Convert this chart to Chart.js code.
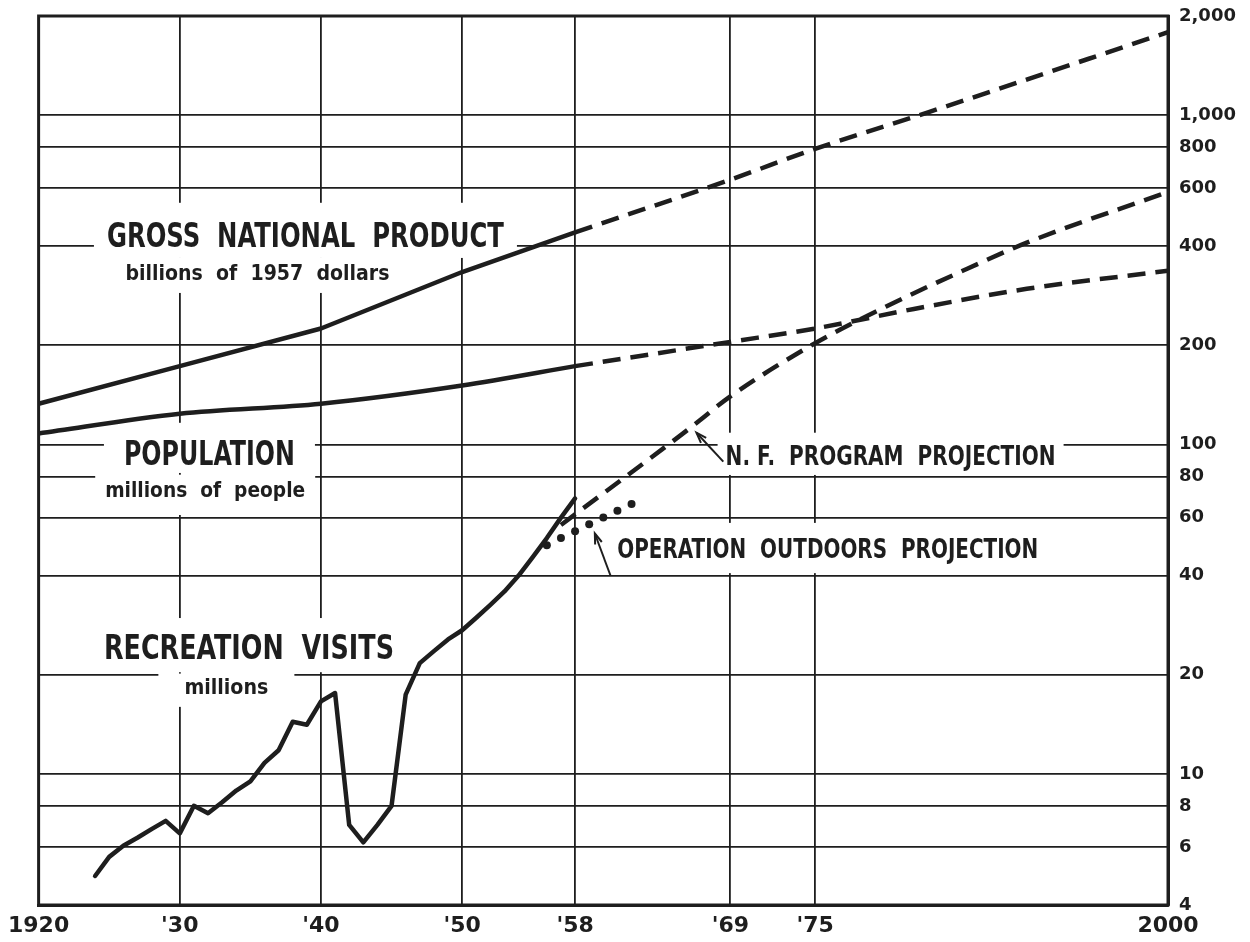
<!DOCTYPE html>
<html>
<head>
<meta charset="utf-8">
<script src="https://cdn.jsdelivr.net/npm/chart.js@4.4.1/dist/chart.umd.min.js"></script>
<style>
  html, body { margin: 0; padding: 0; background: #fff; }
  #wrap { width: 1250px; height: 942px; }
</style>
</head>
<body>
<div id="wrap"><canvas id="chart" width="1250" height="942"></canvas></div>
<script>
// axis ticks
var xTicks = [1920, 1930, 1940, 1950, 1958, 1969, 1975, 2000];
var xTickLabels = ["1920", "'30", "'40", "'50", "'58", "'69", "'75", "2000"];
var yTicks = [4, 6, 8, 10, 20, 40, 60, 80, 100, 200, 400, 600, 800, 1000, 2000];
var yTickLabels = ["4", "6", "8", "10", "20", "40", "60", "80", "100", "200", "400", "600", "800", "1,000", "2,000"];

// gross national product, billions of 1957 dollars
var gnpYears = [1920, 1930, 1940, 1950, 1958];
var gnpValues = [133, 173, 225, 334, 441];
var gnpProjYears = [1958, 1969, 1975, 1983, 2000];
var gnpProjValues = [441, 637, 790, 1020, 1786];

// population, millions
var popYears = [1920, 1930, 1940, 1950, 1958];
var popValues = [108, 124, 133, 151, 173];
var popProjYears = [1958, 1969, 1975, 1982, 1990, 2000];
var popProjValues = [173, 205, 225, 258, 297, 337];

// recreation visits, millions
var visitYears = [1924, 1925, 1926, 1927, 1928, 1929, 1930, 1931, 1932, 1933, 1934, 1935,
  1936, 1937, 1938, 1939, 1940, 1941, 1942, 1943, 1944, 1945, 1946, 1947, 1948, 1949,
  1950, 1951, 1952, 1953, 1954, 1955, 1956, 1957, 1958];
var visitValues = [4.9, 5.6, 6.05, 6.4, 6.8, 7.2, 6.6, 8.0, 7.6, 8.2, 8.9, 9.5,
  10.8, 11.8, 14.4, 14.1, 16.6, 17.6, 7.0, 6.2, 7.0, 8.0, 17.4, 21.7, 23.6, 25.6,
  27.3, 29.8, 32.6, 35.8, 40, 45.5, 52, 60, 68.6];

// N.F. program projection
var nfYears = [1957, 1966, 1969, 1975, 1980, 1985, 1990, 2000];
var nfValues = [57, 111, 140, 203, 262, 330, 410, 585];

// Operation Outdoors projection
var ooYears = [1956, 1957, 1958, 1959, 1960, 1961, 1962];
var ooValues = [49.5, 52, 54.5, 57.3, 60, 63, 66];

var INK = '#1e1e1e';

function pts(xs, ys) {
  return xs.map(function (x, i) { return { x: x, y: ys[i] }; });
}

// text labels placed in data coordinates (year, value at baseline)
var notes = [
  { text: 'GROSS  NATIONAL  PRODUCT', x: 1938.9, y: 398, size: 34, w: 397, padX: 13, padT: 19, padB: 11 },
  { text: 'billions  of  1957  dollars', x: 1935.5, y: 316, size: 22, w: 264, padX: 20, padT: 6, padB: 13 },
  { text: 'POPULATION', x: 1932.1, y: 86.7, size: 34, w: 171, padX: 20, padT: 17, padB: 8 },
  { text: 'millions  of  people', x: 1931.8, y: 69.3, size: 22, w: 200, padX: 10, padT: 6, padB: 18 },
  { text: 'RECREATION  VISITS', x: 1934.9, y: 22.3, size: 34, w: 290, padX: 12, padT: 16, padB: 13 },
  { text: 'millions', x: 1933.3, y: 17.5, size: 22, w: 84, padX: 26, padT: 4, padB: 13 },
  { text: 'N. F.  PROGRAM  PROJECTION', x: 1980.35, y: 86.7, size: 26, w: 330, padX: 8, padT: 13, padB: 10 },
  { text: 'OPERATION  OUTDOORS  PROJECTION', x: 1975.9, y: 45.2, size: 26, w: 421, padX: 12, padT: 16, padB: 15 }
];
var arrows = [
  { from: [1968.5, 88.7], to: [1966.6, 108.6] },
  { from: [1960.5, 40.1], to: [1959.4, 53.7] }
];

function noteFont(size) {
  return 'bold ' + size + 'px "Liberation Sans Narrow", "DejaVu Sans Condensed", "DejaVu Sans", sans-serif';
}

var notesPlugin = {
  id: 'notes',
  beforeDatasetsDraw: function (chart) {
    var ctx = chart.ctx, xs = chart.scales.x, ys = chart.scales.y;
    ctx.save();
    // white backing boxes that break the grid
    notes.forEach(function (n) {
      var cx = xs.getPixelForValue(n.x), by = ys.getPixelForValue(n.y);
      var top = by - n.size * 0.74 - n.padT;
      ctx.fillStyle = '#fff';
      ctx.fillRect(cx - n.w / 2 - n.padX, top, n.w + 2 * n.padX, by + n.padB - top);
    });
    notes.forEach(function (n) {
      var cx = xs.getPixelForValue(n.x), by = ys.getPixelForValue(n.y);
      ctx.font = noteFont(n.size);
      var mw = ctx.measureText(n.text).width;
      ctx.save();
      ctx.translate(cx, by);
      ctx.scale(n.w / mw, 1);
      ctx.fillStyle = INK;
      ctx.textAlign = 'center';
      ctx.textBaseline = 'alphabetic';
      ctx.fillText(n.text, 0, 0);
      ctx.restore();
    });
    ctx.restore();
  },
  afterDatasetsDraw: function (chart) {
    var ctx = chart.ctx, xs = chart.scales.x, ys = chart.scales.y, a = chart.chartArea;
    ctx.save();
    ctx.strokeStyle = INK;
    ctx.lineWidth = 2;
    arrows.forEach(function (ar) {
      var x1 = xs.getPixelForValue(ar.from[0]), y1 = ys.getPixelForValue(ar.from[1]);
      var x2 = xs.getPixelForValue(ar.to[0]), y2 = ys.getPixelForValue(ar.to[1]);
      ctx.beginPath();
      ctx.moveTo(x1, y1);
      ctx.lineTo(x2, y2);
      ctx.stroke();
      var ang = Math.atan2(y2 - y1, x2 - x1), L = 11, sp = 0.33;
      ctx.beginPath();
      ctx.moveTo(x2 - L * Math.cos(ang - sp), y2 - L * Math.sin(ang - sp));
      ctx.lineTo(x2, y2);
      ctx.lineTo(x2 - L * Math.cos(ang + sp), y2 - L * Math.sin(ang + sp));
      ctx.stroke();
    });
    // outer frame
    ctx.lineWidth = 3;
    ctx.strokeRect(a.left, a.top, a.right - a.left, a.bottom - a.top);
    ctx.restore();
  }
};

var solid = { borderColor: INK, borderWidth: 4.5, pointRadius: 0, fill: false, borderJoinStyle: 'round', borderCapStyle: 'round' };
var dashed = { borderColor: INK, borderWidth: 4.5, pointRadius: 0, fill: false, borderDash: [18, 10], borderCapStyle: 'butt' };

new Chart(document.getElementById('chart'), {
  type: 'line',
  data: {
    datasets: [
      Object.assign({ label: 'GNP', data: pts(gnpYears, gnpValues), tension: 0 }, solid),
      Object.assign({ label: 'GNP projection', data: pts(gnpProjYears, gnpProjValues), cubicInterpolationMode: 'monotone' }, dashed),
      Object.assign({ label: 'Population', data: pts(popYears, popValues), cubicInterpolationMode: 'monotone' }, solid),
      Object.assign({ label: 'Population projection', data: pts(popProjYears, popProjValues), cubicInterpolationMode: 'monotone' }, dashed),
      Object.assign({ label: 'Recreation visits', data: pts(visitYears, visitValues), tension: 0 }, solid),
      Object.assign({ label: 'N.F. program projection', data: pts(nfYears, nfValues), cubicInterpolationMode: 'monotone' }, dashed),
      { label: 'Operation Outdoors projection', data: pts(ooYears, ooValues), showLine: false,
        pointRadius: 4, pointBackgroundColor: INK, pointBorderWidth: 0 }
    ]
  },
  options: {
    responsive: false,
    animation: false,
    devicePixelRatio: 1,
    layout: { padding: { left: 36, top: 16, right: 0, bottom: 0 } },
    plugins: { legend: { display: false }, tooltip: { enabled: false } },
    scales: {
      x: {
        type: 'linear', min: 1920, max: 2000,
        afterBuildTicks: function (s) { s.ticks = xTicks.map(function (v) { return { value: v }; }); },
        afterFit: function (s) { s.height = 37; },
        ticks: {
          autoSkip: false, maxRotation: 0, padding: 8, color: INK,
          font: { family: '"DejaVu Sans"', size: 22, weight: 'bold' },
          callback: function (v) { var i = xTicks.indexOf(v); return i < 0 ? '' : xTickLabels[i]; }
        },
        grid: { color: INK, lineWidth: 1.8, drawTicks: false },
        border: { color: INK, width: 3 }
      },
      y: {
        type: 'logarithmic', position: 'right', min: 4, max: 2000,
        afterBuildTicks: function (s) { s.ticks = yTicks.map(function (v) { return { value: v }; }); },
        afterFit: function (s) { s.width = 82; s.paddingTop = 0; s.paddingBottom = 0; },
        ticks: {
          autoSkip: false, padding: 11, color: INK,
          font: { family: '"DejaVu Sans"', size: 18, weight: 'bold' },
          callback: function (v) { var i = yTicks.indexOf(v); return i < 0 ? '' : yTickLabels[i]; }
        },
        grid: { color: INK, lineWidth: 1.8, drawTicks: false },
        border: { color: INK, width: 3 }
      }
    }
  },
  plugins: [notesPlugin]
});
</script>
</body>
</html>
